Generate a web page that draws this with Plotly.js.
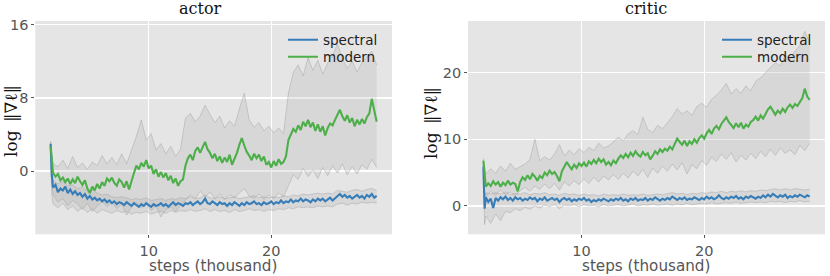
<!DOCTYPE html>
<html>
<head>
<meta charset="utf-8">
<script src="https://cdn.plot.ly/plotly-3.0.1.min.js"></script>
<style>html,body{margin:0;padding:0;background:#fff;}#chart{width:830px;height:276px;}</style>
</head>
<body>
<div id="chart"></div>
<script>
// x grid (thousand steps)
const stepsMean = [2.0,2.1,2.2,2.4,2.6,2.8,3.0,3.2,3.4,3.6,3.8,4.0,4.2,4.4,4.6,4.8,5.0,5.2,5.4,5.6,5.8,6.0,6.2,6.4,6.6,6.8,7.0,7.2,7.4,7.6,7.8,8.0,8.2,8.4,8.6,8.8,9.0,9.2,9.4,9.6,9.8,10.0,10.2,10.4,10.6,10.8,11.0,11.2,11.4,11.6,11.8,12.0,12.2,12.4,12.6,12.8,13.0,13.2,13.4,13.6,13.8,14.0,14.2,14.4,14.6,14.8,15.0,15.2,15.4,15.6,15.8,16.0,16.2,16.4,16.6,16.8,17.0,17.2,17.4,17.6,17.8,18.0,18.2,18.4,18.6,18.8,19.0,19.2,19.4,19.6,19.8,20.0,20.2,20.4,20.6,20.8,21.0,21.2,21.4,21.6,21.8,22.0,22.2,22.4,22.6,22.8,23.0,23.2,23.4,23.6,23.8,24.0,24.2,24.4,24.6,24.8,25.0,25.2,25.4,25.6,25.8,26.0,26.2,26.4,26.6,26.8,27.0,27.2,27.4,27.6,27.8,28.0,28.2,28.4,28.6];
const stepsBand = [2.0,2.1,2.2,2.6,3.0,3.4,3.8,4.2,4.6,5.0,5.4,5.8,6.2,6.6,7.0,7.4,7.8,8.2,8.6,9.0,9.4,9.8,10.2,10.6,11.0,11.4,11.8,12.2,12.6,13.0,13.4,13.8,14.2,14.6,15.0,15.4,15.8,16.2,16.6,17.0,17.4,17.8,18.2,18.6,19.0,19.4,19.8,20.2,20.6,21.0,21.4,21.8,22.2,22.6,23.0,23.4,23.8,24.2,24.6,25.0,25.4,25.8,26.2,26.6,27.0,27.4,27.8,28.2,28.6];

// actor
const actorModern = [2.7,0.8,-0.2,-0.6,-0.3,-1.0,-0.7,-1.2,-0.8,-1.4,-0.9,-1.3,-0.6,-1.1,-1.5,-1.0,-1.9,-2.4,-1.7,-2.1,-1.4,-1.9,-1.2,-1.6,-0.8,-1.1,-0.7,-1.3,-1.6,-0.9,-1.2,-1.8,-1.1,-2.0,-1.0,-0.2,0.6,0.2,0.9,0.5,1.2,0.3,0.6,-0.3,0.2,-0.6,-0.1,-0.7,-0.2,-1.0,-0.5,-1.3,-0.8,-1.6,-1.1,-0.9,0.6,1.4,1.8,1.2,2.2,2.6,2.0,2.7,3.2,2.4,2.0,1.4,1.9,1.1,1.6,0.9,1.5,1.0,1.8,0.7,1.3,2.0,2.9,3.6,2.8,2.1,1.7,1.2,1.9,1.4,1.8,1.1,1.6,0.7,1.0,0.4,1.1,0.6,1.3,0.8,1.0,1.6,3.4,4.1,4.6,4.3,5.0,4.5,5.4,4.9,5.6,4.8,5.3,4.4,5.1,4.3,4.9,3.9,4.7,5.2,5.0,5.6,6.2,6.7,6.0,5.5,6.1,5.3,5.8,4.9,5.6,5.1,5.7,5.2,5.9,6.3,7.9,6.5,5.4];
const actorSpectral = [3.0,-0.5,-1.8,-1.5,-2.3,-1.9,-2.1,-1.7,-2.4,-2.0,-2.5,-2.2,-2.6,-2.4,-2.8,-2.5,-3.0,-2.7,-3.1,-2.9,-3.2,-3.0,-3.3,-3.1,-3.4,-3.2,-3.5,-3.3,-3.6,-3.4,-3.5,-3.7,-3.4,-3.6,-3.8,-3.5,-3.7,-3.9,-3.6,-3.8,-3.5,-3.7,-3.9,-3.6,-3.8,-3.7,-3.5,-3.8,-3.6,-3.9,-3.6,-3.4,-3.7,-3.5,-3.6,-3.8,-3.5,-3.6,-3.4,-3.7,-3.5,-3.3,-3.6,-3.4,-3.0,-3.5,-3.6,-3.3,-3.5,-3.7,-3.4,-3.6,-3.5,-3.8,-3.5,-3.7,-3.4,-3.6,-3.8,-3.5,-3.7,-3.4,-3.6,-3.5,-3.3,-3.6,-3.5,-3.7,-3.4,-3.6,-3.5,-3.3,-3.6,-3.4,-3.5,-3.2,-3.5,-3.3,-3.4,-3.1,-3.4,-3.2,-3.3,-3.0,-3.3,-3.1,-3.2,-3.4,-3.1,-3.3,-3.0,-3.2,-3.0,-3.3,-3.1,-2.9,-3.2,-3.0,-2.7,-2.5,-2.8,-2.6,-2.9,-2.7,-3.0,-2.8,-2.6,-2.9,-2.7,-3.0,-2.6,-2.8,-2.5,-2.9,-2.7];
const actorModernHi = [3.2,1.8,0.8,0.5,1.2,0.3,1.6,0.4,0.9,0.2,1.0,0.6,1.7,0.8,1.5,0.7,1.9,0.8,2.2,3.8,5.6,3.4,4.1,2.3,3.0,1.9,2.7,1.6,2.4,5.8,6.3,5.4,6.0,7.2,6.2,5.3,6.0,4.7,5.5,4.9,6.8,8.5,5.6,4.8,5.3,4.4,4.9,4.2,4.7,4.1,8.5,10.8,11.6,10.4,12.4,11.0,12.1,10.6,11.8,12.6,13.9,12.3,11.2,12.0,10.8,11.9,12.5,13.1,11.6];
const actorModernLo = [2.0,-1.5,-2.6,-3.4,-3.0,-3.8,-3.2,-3.6,-4.2,-3.5,-4.4,-3.8,-3.3,-3.9,-3.4,-4.1,-3.6,-4.8,-3.9,-3.4,-4.0,-3.6,-4.3,-3.8,-5.0,-4.2,-3.9,-4.4,-3.7,-3.2,-2.6,-3.0,-2.2,-2.8,-2.3,-3.0,-2.5,-3.1,-2.6,-2.9,-2.4,-1.9,-2.7,-3.0,-2.5,-3.1,-2.6,-3.0,-2.4,-2.8,-1.6,-0.4,-0.9,0.3,-0.6,0.1,-0.8,0.4,-0.5,0.6,-0.2,0.8,-0.4,0.5,-0.3,0.7,0.2,1.3,0.4];
const actorSpectralHi = [3.3,0.2,-1.0,-1.4,-1.1,-1.6,-1.5,-1.9,-1.7,-2.2,-2.0,-2.4,-2.6,-2.5,-2.8,-2.9,-2.8,-2.9,-3.1,-3.0,-3.1,-2.9,-3.2,-3.1,-3.0,-3.2,-3.0,-3.1,-2.9,-3.0,-2.8,-3.0,-2.9,-2.6,-2.9,-3.0,-2.8,-3.0,-2.9,-2.8,-3.0,-2.9,-2.8,-2.7,-2.9,-2.8,-2.9,-2.8,-2.9,-2.7,-2.8,-2.6,-2.7,-2.5,-2.6,-2.5,-2.4,-2.5,-2.4,-2.5,-2.1,-2.2,-2.3,-2.1,-2.0,-2.2,-2.0,-1.9,-2.1];
const actorSpectralLo = [2.5,-2.5,-3.6,-4.0,-3.5,-4.2,-3.8,-4.4,-4.0,-4.5,-4.1,-4.6,-4.2,-4.4,-4.6,-4.3,-4.5,-4.4,-4.7,-4.5,-4.6,-4.4,-4.7,-4.5,-4.4,-4.6,-4.3,-4.5,-4.3,-4.4,-4.2,-4.4,-4.3,-4.1,-4.4,-4.2,-4.4,-4.3,-4.5,-4.2,-4.4,-4.3,-4.1,-4.3,-4.2,-4.4,-4.2,-4.3,-4.1,-4.2,-4.0,-4.1,-3.9,-4.0,-3.9,-4.0,-3.8,-3.9,-3.8,-3.9,-3.6,-3.5,-3.7,-3.5,-3.6,-3.4,-3.5,-3.4,-3.5];

// critic
const criticModern = [6.8,4.0,2.9,3.4,3.0,3.7,3.2,3.6,2.9,3.5,3.1,3.8,3.2,3.5,3.3,2.2,3.6,4.3,3.9,4.6,4.0,4.8,4.4,3.8,4.5,4.2,5.0,4.6,5.3,4.8,5.1,4.5,3.7,5.2,5.8,6.6,6.0,5.5,6.2,5.7,6.4,6.0,6.5,5.9,6.7,6.3,6.9,6.4,7.1,6.6,7.0,6.2,6.6,6.1,6.8,6.4,7.1,7.6,7.2,7.8,7.3,8.0,7.5,8.2,7.7,7.4,8.1,7.6,7.9,7.0,7.5,8.2,7.8,8.5,8.1,8.6,8.3,8.9,8.5,9.3,10.1,9.6,9.2,9.8,9.0,9.7,9.3,10.0,9.5,10.2,10.6,10.1,10.9,11.4,10.8,11.6,12.0,11.5,12.3,12.8,13.3,12.6,12.1,11.7,12.4,11.8,12.5,11.6,12.2,11.9,12.6,12.9,13.4,12.8,13.6,13.1,13.8,14.5,14.9,14.2,13.7,14.3,13.9,14.6,14.1,14.8,15.2,14.7,15.3,15.0,15.7,16.2,17.6,16.4,15.9];
const criticSpectral = [5.9,-0.4,1.3,0.6,1.1,-0.3,1.2,0.8,1.3,1.0,1.4,0.9,1.2,0.8,1.3,1.0,1.2,0.8,1.1,0.9,1.3,1.0,1.2,0.7,1.1,0.9,1.3,0.8,1.0,1.2,0.9,1.1,0.6,1.0,1.2,0.9,1.1,0.7,1.0,0.8,1.1,0.9,1.2,0.8,1.0,0.6,0.9,0.7,1.0,0.8,1.1,0.9,0.7,1.0,0.8,1.1,0.9,1.2,0.8,1.0,0.7,1.1,0.9,1.2,0.8,1.0,0.9,1.2,0.8,1.1,0.9,1.3,1.0,0.8,1.1,0.9,1.2,1.0,1.4,1.1,0.9,1.2,1.0,1.3,0.9,1.1,1.0,1.3,1.1,0.9,1.2,1.0,1.4,1.1,1.3,1.0,1.2,1.6,1.2,1.0,1.3,1.1,1.4,1.2,1.5,1.1,1.3,1.0,1.4,1.2,1.5,1.3,1.1,1.4,1.2,1.6,1.3,1.7,1.4,1.8,1.5,1.3,1.6,1.4,1.7,1.2,1.5,1.3,1.6,1.4,1.7,1.5,1.3,1.6,1.4];
const criticModernHi = [7.2,5.5,4.8,5.6,4.9,6.0,5.2,6.4,5.5,5.9,6.3,7.0,10.0,6.8,7.4,6.9,7.8,9.2,7.5,8.4,7.7,8.6,8.0,8.8,8.3,9.4,8.7,9.0,9.6,10.3,9.8,10.8,11.3,10.7,13.3,11.5,11.0,12.1,11.6,12.5,13.4,14.6,13.8,14.3,13.6,14.9,15.4,14.8,16.0,16.6,17.4,18.4,16.8,17.6,16.9,18.0,17.3,18.7,19.2,20.0,20.8,21.5,21.0,22.6,22.0,23.2,24.1,26.2,24.5];
const criticModernLo = [6.0,2.0,1.4,2.2,1.6,2.4,1.7,2.1,1.5,2.3,2.8,2.2,3.0,2.5,3.3,2.6,3.4,2.4,3.6,3.0,3.8,3.2,4.1,3.4,4.3,3.6,4.5,3.9,4.7,4.0,4.9,4.2,5.2,4.5,5.5,4.3,5.7,4.9,6.0,5.2,6.3,5.4,6.5,4.8,6.2,5.6,6.8,6.1,7.3,6.7,7.8,7.0,8.0,6.6,7.6,6.9,7.9,7.1,8.2,7.4,8.5,7.6,8.7,7.9,8.4,7.7,9.1,8.3,9.4];
const criticSpectralHi = [6.2,1.2,2.0,1.8,2.0,1.8,2.1,1.7,1.9,1.8,2.0,1.7,1.9,1.8,2.0,1.7,1.8,1.6,1.9,1.7,1.8,1.6,1.8,1.6,1.7,1.5,1.8,1.6,1.7,1.6,1.8,1.6,1.7,1.6,1.8,1.6,1.7,1.8,1.7,1.9,2.0,1.8,1.9,1.7,1.9,1.8,2.0,1.9,2.1,2.0,2.2,2.0,2.2,2.1,2.3,2.1,2.3,2.2,2.4,2.3,2.5,2.6,2.4,2.6,2.4,2.6,2.5,2.4,2.5];
const criticSpectralLo = [5.0,-2.8,-1.5,-2.6,-1.2,-2.2,-0.8,-1.0,-0.4,-0.7,-0.2,-0.5,0.0,-0.3,0.1,-0.1,0.2,-0.4,0.1,0.0,0.2,-0.1,0.2,0.0,0.1,-0.1,0.2,0.0,0.1,0.2,0.0,0.1,0.3,0.0,0.2,0.1,0.3,0.1,0.2,0.3,0.1,0.3,0.2,0.4,0.2,0.3,0.4,0.3,0.5,0.3,0.4,0.5,0.4,0.6,0.4,0.5,0.6,0.5,0.6,0.5,0.7,0.6,0.7,0.5,0.7,0.6,0.8,0.6,0.7];

// labels
const panelTitles = ['actor', 'critic'];
const seriesNames = ['spectral', 'modern'];
const xLabel = 'steps (thousand)';
const yLabel = 'log\u2002\u2016\u2207\u2113\u2016';
const xTicks = [10, 20];
const actorYTicks = [0, 8, 16];
const criticYTicks = [0, 10, 20];

const BLUE = '#377eb8', GREEN = '#4daf4a';
const BAND_LINE = 'rgba(165,165,165,0.6)';
const BAND_FILL = 'rgba(170,170,170,0.24)';

function band(lo, hi, xa, ya) {
  return [
    {x: stepsBand, y: lo, xaxis: xa, yaxis: ya, mode: 'lines', line: {color: BAND_LINE, width: 0.8}, showlegend: false, hoverinfo: 'skip'},
    {x: stepsBand, y: hi, xaxis: xa, yaxis: ya, mode: 'lines', line: {color: BAND_LINE, width: 0.8}, fill: 'tonexty', fillcolor: BAND_FILL, showlegend: false, hoverinfo: 'skip'}
  ];
}
function mean(y, name, color, xa, ya, leg) {
  return {x: stepsMean, y: y, xaxis: xa, yaxis: ya, mode: 'lines', name: name, legend: leg, line: {color: color, width: 2.1}};
}

const data = [].concat(
  band(actorSpectralLo, actorSpectralHi, 'x', 'y'),
  band(actorModernLo, actorModernHi, 'x', 'y'),
  [mean(actorSpectral, seriesNames[0], BLUE, 'x', 'y', 'legend'),
   mean(actorModern, seriesNames[1], GREEN, 'x', 'y', 'legend2')],
  band(criticSpectralLo, criticSpectralHi, 'x2', 'y2'),
  band(criticModernLo, criticModernHi, 'x2', 'y2'),
  [mean(criticSpectral, seriesNames[0], BLUE, 'x2', 'y2', 'legend3'),
   mean(criticModern, seriesNames[1], GREEN, 'x2', 'y2', 'legend4')]
);

const tickFont = {family: 'DejaVu Sans', size: 14.5, color: '#555555'};
function xax(domain, anchor) {
  return {domain: domain, anchor: anchor, range: [0.75, 29.85], tickvals: xTicks, ticks: 'outside', ticklen: 3, tickcolor: '#555555', tickwidth: 1,
    showgrid: true, gridcolor: '#ffffff', gridwidth: 1.3, zeroline: false, showline: false, tickfont: tickFont, ticklabelstandoff: 0, fixedrange: true};
}
function yax(domain, anchor, range, tv) {
  return {domain: domain, anchor: anchor, range: range, tickvals: tv, ticks: 'outside', ticklen: 3, tickcolor: '#555555', tickwidth: 1,
    showgrid: true, gridcolor: '#ffffff', gridwidth: 1.3, zeroline: false, showline: false, tickfont: tickFont, fixedrange: true};
}
const yDom = [0.151, 0.924];
const legFont = {family: 'DejaVu Sans', size: 13.5, color: '#222222'};
function leg(xpx, ypx) {
  return {x: xpx/830, y: 1 - ypx/276, xanchor: 'left', yanchor: 'middle', bgcolor: 'rgba(0,0,0,0)', font: legFont, borderwidth: 0};
}
function note(text, xpx, ypx, font, angle) {
  return {text: text, xref: 'paper', yref: 'paper', x: xpx/830, y: 1 - ypx/276, xanchor: 'center', yanchor: 'middle',
    textangle: angle || 0, showarrow: false, borderpad: 0, font: font};
}
const titleFont = {family: 'DejaVu Serif', size: 16, color: '#111'};
const xLabFont = {family: 'DejaVu Sans', size: 15.2, color: '#555555'};
const yLabFont = {family: 'DejaVu Serif', size: 17, color: '#111'};
const layout = {
  width: 830, height: 276,
  margin: {l: 0, r: 0, t: 0, b: 0},
  paper_bgcolor: '#ffffff', plot_bgcolor: '#e5e5e5',
  showlegend: true,
  xaxis: xax([0.0425, 0.4723], 'y'),
  yaxis: yax(yDom, 'x', [-6.9, 16.4], actorYTicks),
  xaxis2: xax([0.5639, 0.994], 'y2'),
  yaxis2: yax(yDom, 'x2', [-4.25, 27.75], criticYTicks),
  legend: leg(283, 40),
  legend2: leg(283, 57),
  legend3: leg(717, 40),
  legend4: leg(717, 57),
  annotations: [
    note(panelTitles[0], 200, 8, titleFont),
    note(panelTitles[1], 646, 8, titleFont),
    note(xLabel, 213, 266, xLabFont),
    note(xLabel, 646, 266, xLabFont),
    note(yLabel, 11, 121, yLabFont, -90),
    note(yLabel, 431, 123, yLabFont, -90)
  ]
};
Plotly.newPlot('chart', data, layout, {staticPlot: true, displayModeBar: false});
</script>
</body>
</html>
